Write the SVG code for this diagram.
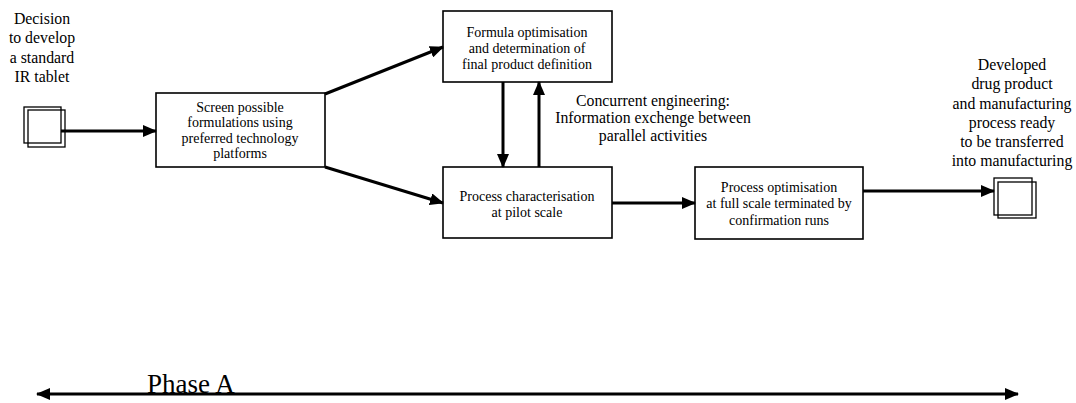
<svg xmlns="http://www.w3.org/2000/svg" width="1076" height="403" viewBox="0 0 1076 403">
<style>
.box{fill:#fff;stroke:#000;stroke-width:1.6}
.sq{fill:none;stroke:#000;stroke-width:1.3}
text{font-family:"Liberation Serif","Times New Roman",serif;fill:#000;text-anchor:middle}
.s14{font-size:14px}
.s16{font-size:15.8px}
.c{fill:none;stroke:#000;stroke-width:3}
</style>
<defs>
<marker id="ah" markerUnits="userSpaceOnUse" markerWidth="14" markerHeight="12" refX="13" refY="6" orient="auto">
<path d="M0,0 L14,6 L0,12 Z" fill="#000"/>
</marker>
<marker id="ahs" markerUnits="userSpaceOnUse" markerWidth="14" markerHeight="12" refX="1" refY="6" orient="auto">
<path d="M14,0 L0,6 L14,12 Z" fill="#000"/>
</marker>
</defs>
<g id="start">
<rect class="sq" x="24" y="107" width="37" height="36"/>
<rect class="sq" x="28" y="110" width="37" height="37"/>
<text class="s16"><tspan x="42" y="24">Decision</tspan><tspan x="42" y="43">to develop</tspan><tspan x="42" y="63">a standard</tspan><tspan x="42" y="82">IR tablet</tspan></text>
</g>
<g id="screen">
<rect class="box" x="156" y="93" width="169" height="74"/>
<text class="s14"><tspan x="240" y="112">Screen possible</tspan><tspan x="240" y="127">formulations using</tspan><tspan x="240" y="143">preferred technology</tspan><tspan x="240" y="158">platforms</tspan></text>
</g>
<g id="formula">
<rect class="box" x="443" y="11" width="169" height="71"/>
<text class="s14"><tspan x="527" y="37">Formula optimisation</tspan><tspan x="527" y="53">and determination of</tspan><tspan x="527" y="69">final product definition</tspan></text>
</g>
<g id="pilot">
<rect class="box" x="443" y="167" width="169" height="71"/>
<text class="s14"><tspan x="527" y="201">Process characterisation</tspan><tspan x="527" y="217">at pilot scale</tspan></text>
</g>
<g id="fullscale">
<rect class="box" x="695" y="167" width="168" height="72"/>
<text class="s14"><tspan x="779" y="192">Process optimisation</tspan><tspan x="779" y="208">at full scale terminated by</tspan><tspan x="779" y="225">confirmation runs</tspan></text>
</g>
<g id="end">
<rect class="sq" x="994" y="178" width="38" height="37"/>
<rect class="sq" x="998" y="182" width="38" height="36"/>
<text class="s16"><tspan x="1012" y="70">Developed</tspan><tspan x="1012" y="89">drug product</tspan><tspan x="1012" y="109">and manufacturing</tspan><tspan x="1012" y="128">process ready</tspan><tspan x="1012" y="147">to be transferred</tspan><tspan x="1012" y="166">into manufacturing</tspan></text>
</g>
<g id="note">
<text class="s16"><tspan x="653" y="106">Concurrent engineering:</tspan><tspan x="653" y="123">Information exchenge between</tspan><tspan x="653" y="141">parallel activities</tspan></text>
</g>
<g id="connectors">
<line class="c" x1="61" y1="131" x2="156" y2="131" marker-end="url(#ah)"/>
<line class="c" x1="325" y1="94" x2="443" y2="47" marker-end="url(#ah)"/>
<line class="c" x1="325" y1="167" x2="443" y2="203" marker-end="url(#ah)"/>
<line class="c" x1="503" y1="82" x2="503" y2="167" marker-end="url(#ah)"/>
<line class="c" x1="539" y1="167" x2="539" y2="82" marker-end="url(#ah)"/>
<line class="c" x1="612" y1="203" x2="695" y2="203" marker-end="url(#ah)"/>
<line class="c" x1="863" y1="191" x2="994" y2="191" marker-end="url(#ah)"/>
<line class="c" x1="37" y1="394" x2="1018" y2="394" marker-start="url(#ahs)" marker-end="url(#ah)"/>
</g>
<g id="phase">
<text x="147" y="393" style="text-anchor:start;font-size:27px">Phase A</text>
</g>
</svg>
